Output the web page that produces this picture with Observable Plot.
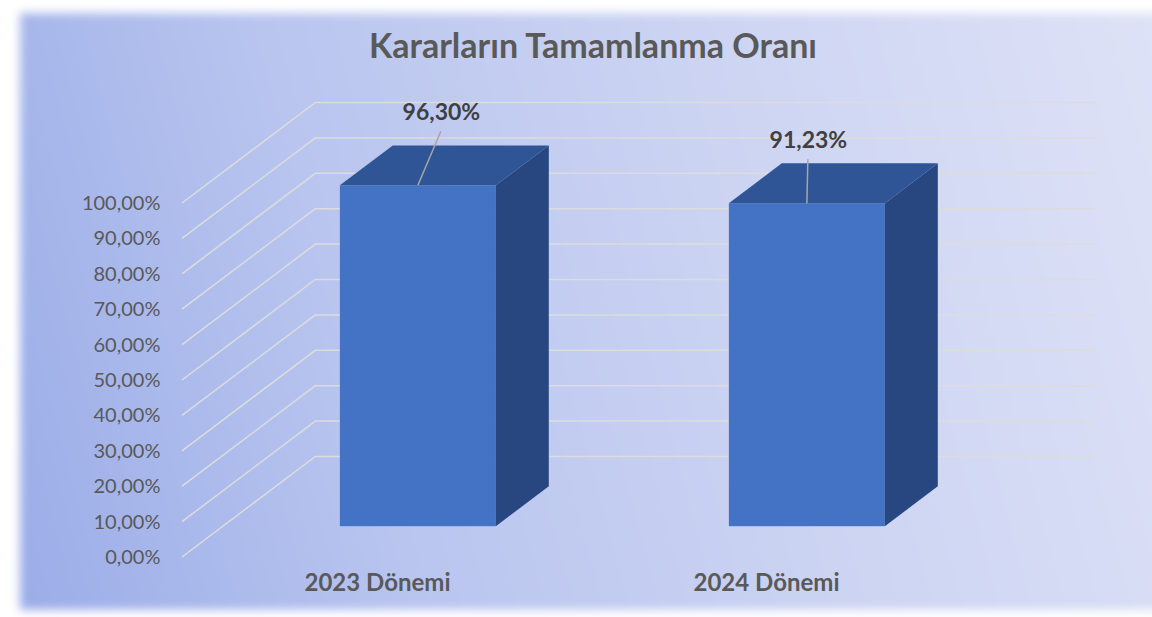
<!DOCTYPE html>
<html>
<head>
<meta charset="utf-8">
<script src="https://cdn.jsdelivr.net/npm/d3@7"></script>
<script src="https://cdn.jsdelivr.net/npm/@observablehq/plot@0.6"></script>
<style>
  html, body { margin: 0; padding: 0; background: #fff; width: 1152px; height: 617px; overflow: hidden; }
  #wrap { position: relative; width: 1152px; height: 617px; overflow: hidden; background: #fff; }
  #bg { position: absolute; left: 20px; top: 13px; width: 1170px; height: 597px;
        background: linear-gradient(75deg, #9badE8 0%, #b9c5ef 30%, #cbd3f2 60%, #dfe3f7 100%);
        filter: blur(5px); }
  #title { position: absolute; left: 0; top: 25px; width: 1186px; text-align: center;
           font-family: Lato, sans-serif; font-weight: bold; font-size: 34px; line-height: 40px; color: #595959; }
  #chart { position: absolute; left: 0; top: 0; }
</style>
</head>
<body>
<div id="wrap">
  <div id="bg"></div>
  <div id="title">Kararların Tamamlanma Oranı</div>
  <div id="chart"></div>
</div>
<script>
// ---- data ----
const categories = ["2023 Dönemi", "2024 Dönemi"];
const rates = [0.9630, 0.9123];
const rateLabels = ["96,30%", "91,23%"];
const yTicks = [0, 0.1, 0.2, 0.3, 0.4, 0.5, 0.6, 0.7, 0.8, 0.9, 1.0];
const yTickLabels = ["0,00%", "10,00%", "20,00%", "30,00%", "40,00%", "50,00%",
                     "60,00%", "70,00%", "80,00%", "90,00%", "100,00%"];

// ---- layout / style constants (3-D projection) ----
const WALL = {dx: 134, dy: -101};      // floor depth vector (front plane -> back wall)
const BAR_FRONT = 0.305, BAR_BACK = 0.70; // depth fractions of bar front/back faces
const LABEL_NUDGE = [[23, -73], [1, -63]];
const COLORS = {front: "#4472c4", top: "#2f5597", side: "#284780", grid: "#dcdcdc",
                text: "#595959", label: "#404040", leader: "#a6a6a6"};

const data = categories.map((c, i) => ({cat: c, value: rates[i], label: rateLabels[i]}));
const fdx = WALL.dx * BAR_FRONT, fdy = WALL.dy * BAR_FRONT;
const bdx = WALL.dx * BAR_BACK,  bdy = WALL.dy * BAR_BACK;

// diagonal floor-to-wall gridlines
const diagonals = (index, scales, values, dims) => {
  const g = d3.create("svg:g").attr("stroke", COLORS.grid).attr("stroke-width", 1.5).attr("fill", "none");
  for (const t of yTicks) {
    const y = scales.y(t), x = dims.marginLeft;
    g.append("line").attr("x1", x).attr("y1", y).attr("x2", x + WALL.dx).attr("y2", y + WALL.dy);
  }
  return g.node();
};

// top & side faces of the 3-D bars
const faces = (index, scales) => {
  const sx = scales.x, sy = scales.y, bw = sx.bandwidth();
  const g = d3.create("svg:g");
  for (const d of data) {
    const x0 = sx(d.cat), x1 = x0 + bw, yT = sy(d.value), yB = sy(0);
    const P = (x, y, ox, oy) => `${x + ox},${y + oy}`;
    g.append("polygon").attr("fill", COLORS.top).attr("points", [
      P(x0, yT, fdx, fdy), P(x0, yT, bdx, bdy), P(x1, yT, bdx, bdy), P(x1, yT, fdx, fdy)].join(" "));
    g.append("polygon").attr("fill", COLORS.side).attr("points", [
      P(x1, yT, fdx, fdy), P(x1, yT, bdx, bdy), P(x1, yB, bdx, bdy), P(x1, yB, fdx, fdy)].join(" "));
  }
  return g.node();
};

// leader lines from bar top to data label
const leaders = (index, scales) => {
  const sx = scales.x, sy = scales.y, bw = sx.bandwidth();
  const g = d3.create("svg:g").attr("stroke", COLORS.leader).attr("stroke-width", 1.5);
  data.forEach((d, i) => {
    const cx = sx(d.cat) + bw / 2 + fdx, cy = sy(d.value) + fdy;
    g.append("line").attr("x1", cx).attr("y1", cy)
      .attr("x2", cx + LABEL_NUDGE[i][0]).attr("y2", cy + LABEL_NUDGE[i][1] + 19);
  });
  return g.node();
};

const chart = Plot.plot({
  width: 1152,
  height: 617,
  marginLeft: 182,
  marginRight: 191,
  marginTop: 203,
  marginBottom: 60,
  style: {background: "transparent", fontFamily: "Lato, sans-serif", overflow: "visible"},
  x: {type: "band", domain: categories, paddingInner: 0.6, paddingOuter: 0.3, axis: null},
  y: {domain: [0, 1], axis: null},
  marks: [
    Plot.ruleY(yTicks, {y: d => d, dx: WALL.dx, dy: WALL.dy, stroke: COLORS.grid, strokeWidth: 1.5}),
    diagonals,
    Plot.text(yTicks, {y: d => d, text: (d, i) => yTickLabels[i], frameAnchor: "left", textAnchor: "end",
                       dx: -22, fontSize: 20, fill: COLORS.text}),
    Plot.barY(data, {x: "cat", y: "value", fill: COLORS.front, dx: fdx, dy: fdy}),
    faces,
    leaders,
    ...data.map((d, i) => Plot.text([d], {x: "cat", y: "value", text: "label",
        dx: fdx + LABEL_NUDGE[i][0], dy: fdy + LABEL_NUDGE[i][1],
        fontSize: 23, fontWeight: "bold", fill: COLORS.label})),
    Plot.text(categories, {x: d => d, text: d => d, frameAnchor: "bottom", dy: 33,
                           fontSize: 24, fontWeight: "bold", fill: COLORS.text})
  ]
});
document.getElementById("chart").appendChild(chart);
</script>
</body>
</html>
